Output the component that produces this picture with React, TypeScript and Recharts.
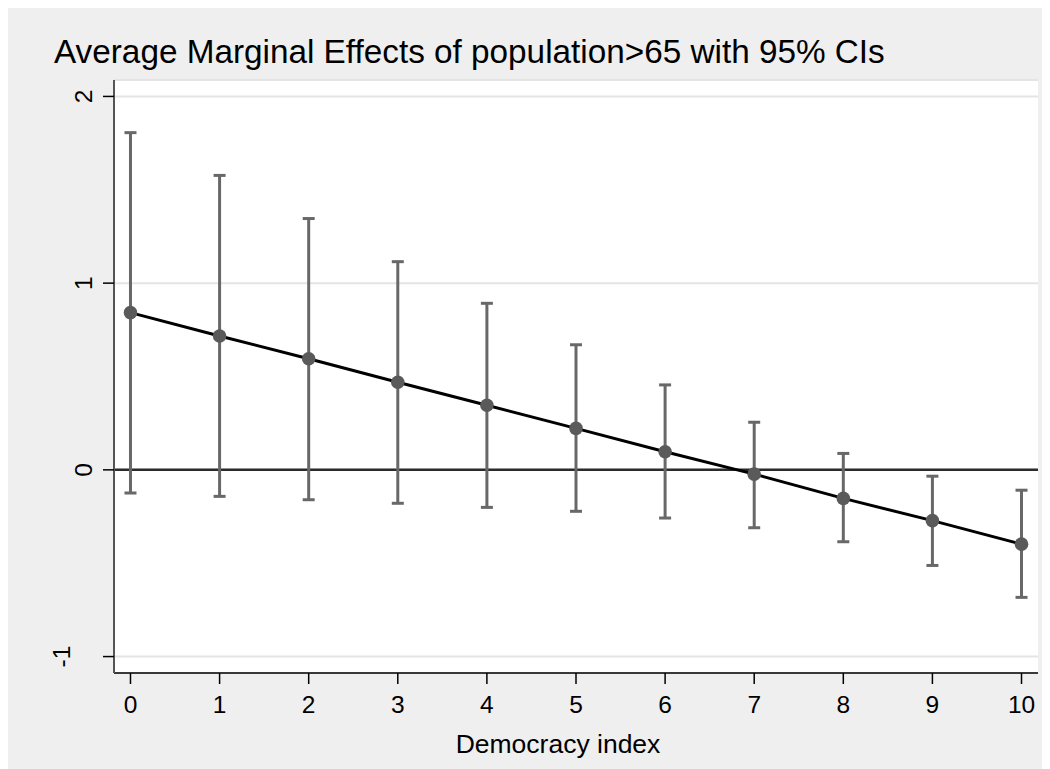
import React from "react";
import {
  ComposedChart,
  Line,
  ErrorBar,
  XAxis,
  YAxis,
  CartesianGrid,
  ReferenceLine,
} from "recharts";

const democracy = [0, 1, 2, 3, 4, 5, 6, 7, 8, 9, 10];
const effect = [0.842, 0.717, 0.595, 0.469, 0.346, 0.222, 0.097, -0.023, -0.153, -0.272, -0.398];
const lower = [-0.124, -0.142, -0.16, -0.179, -0.201, -0.222, -0.258, -0.31, -0.385, -0.512, -0.683];
const upper = [1.806, 1.577, 1.346, 1.115, 0.892, 0.67, 0.455, 0.255, 0.088, -0.034, -0.109];
const xTicks = [0, 1, 2, 3, 4, 5, 6, 7, 8, 9, 10];
const yTicks = [-1, 0, 1, 2];

const title = "Average Marginal Effects of population>65 with 95% CIs";
const xLabel = "Democracy index";

const font = '"Liberation Sans", Arial, sans-serif';

const data = democracy.map((d, i) => ({
  x: d,
  est: effect[i],
  err: [effect[i] - lower[i], upper[i] - effect[i]],
}));

function YTick(props: any) {
  const { x, y, payload } = props;
  const label = String(payload.value);
  // stata pushes the "-1" label further out
  const bx = x - 11 - (label.length - 1) * 22;
  return (
    <text
      x={bx}
      y={y}
      transform={`rotate(-90, ${bx}, ${y})`}
      textAnchor="middle"
      fontSize={24.5}
      fontFamily={font}
      fill="#000"
    >
      {label}
    </text>
  );
}

function XTick(props: any) {
  const { x, y, payload } = props;
  return (
    <text x={x} y={y + 29} textAnchor="middle" fontSize={24.5} fontFamily={font} fill="#000">
      {payload.value}
    </text>
  );
}

function XLabel(props: any) {
  const vb = props.viewBox || { x: 106, width: 924, y: 665 };
  return (
    <text
      x={vb.x + vb.width / 2 - 18}
      y={vb.y + 80}
      textAnchor="middle"
      fontSize={26.5}
      fontFamily={font}
      fill="#000"
    >
      {xLabel}
    </text>
  );
}

export default function App() {
  return (
    <div style={{ position: "relative", width: 1042, height: 761, background: "#efefef", fontFamily: font }}>
      <div
        style={{
          position: "absolute",
          left: 46,
          top: 27,
          fontSize: 33.3,
          lineHeight: "33px",
          color: "#000",
          whiteSpace: "nowrap",
        }}
      >
        {title}
      </div>
      <ComposedChart
        width={1042}
        height={761}
        data={data}
        margin={{ top: 72, right: 12, bottom: 0, left: 0 }}
        style={{ position: "absolute", left: 0, top: 0 }}
      >
        <CartesianGrid vertical={false} fill="#ffffff" stroke="#e4e4e4" strokeWidth={2} />
        <XAxis
          dataKey="x"
          type="number"
          domain={[-0.185, 10.185]}
          allowDataOverflow
          ticks={xTicks}
          interval={0}
          height={96}
          tickSize={11}
          tickMargin={0}
          axisLine={{ stroke: "#000", strokeWidth: 1.5 }}
          tickLine={{ stroke: "#000", strokeWidth: 1.5 }}
          tick={<XTick />}
          label={<XLabel />}
        />
        <YAxis
          type="number"
          domain={[-1.088, 2.088]}
          allowDataOverflow
          ticks={yTicks}
          interval={0}
          width={106}
          tickSize={11}
          tickMargin={0}
          axisLine={{ stroke: "#555", strokeWidth: 2 }}
          tickLine={{ stroke: "#000", strokeWidth: 1.5 }}
          tick={<YTick />}
        />
        <ReferenceLine y={0} stroke="#2b2b2b" strokeWidth={2.5} />
        <Line
          dataKey="est"
          type="linear"
          stroke="#000"
          strokeWidth={3}
          dot={{ r: 6.8, fill: "#5a5a5a", stroke: "none" }}
          activeDot={false}
          isAnimationActive={false}
        >
          <ErrorBar dataKey="err" width={6} stroke="#686868" strokeWidth={3} direction="y" />
        </Line>
      </ComposedChart>
    </div>
  );
}
